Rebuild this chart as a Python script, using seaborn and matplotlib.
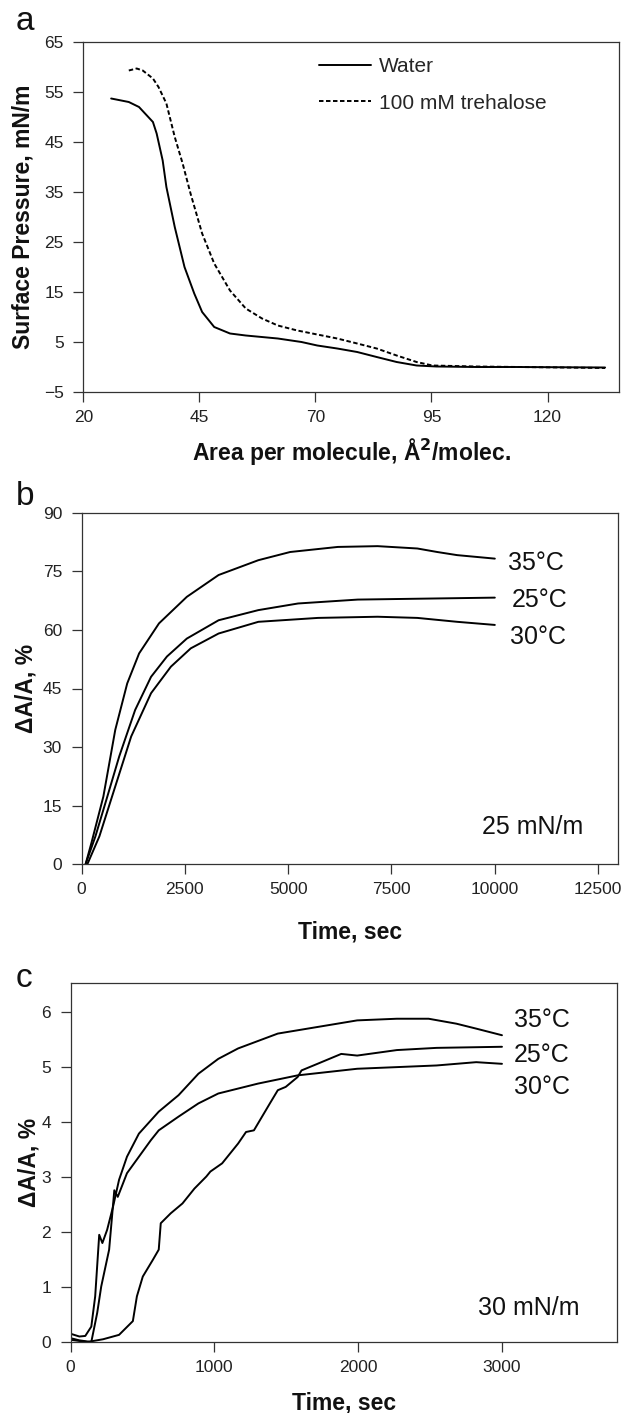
import pandas as pd
import matplotlib.pyplot as plt
import seaborn as sns

# ---- panel a: surface pressure isotherms ----
area_water = [26.0, 29.8, 32.0, 35.0, 35.8, 37.1, 37.9, 39.7, 41.8, 43.9, 45.6, 48.2,
              51.6, 55.0, 61.9, 67.0, 70.4, 74.7, 79.0, 83.2, 87.5, 91.8, 96.1, 104.6,
              113.2, 132.4]
pi_water = [53.7, 53.0, 52.0, 49.0, 46.7, 41.3, 36.0, 28.0, 20.0, 14.7, 11.0, 8.0,
            6.7, 6.3, 5.7, 5.0, 4.3, 3.7, 3.0, 2.0, 1.0, 0.3, 0.1, 0.0,
            0.0, -0.1]
area_treh = [29.8, 31.5, 32.8, 35.0, 36.2, 37.9, 39.7, 41.4, 43.1, 45.6, 48.2, 51.6,
             55.0, 58.5, 61.9, 66.1, 70.4, 74.7, 79.0, 83.2, 87.5, 91.8, 95.2, 104.6,
             132.4]
pi_treh = [59.3, 59.7, 59.3, 57.7, 56.0, 52.7, 46.0, 40.7, 34.7, 26.7, 20.7, 15.3,
           11.7, 9.7, 8.3, 7.3, 6.5, 5.7, 4.7, 3.7, 2.3, 1.0, 0.3, 0.1,
           -0.2]

# ---- panel b: relaxation at 25 mN/m ----
t_b35 = [100, 240, 529, 817, 1106, 1394, 1875, 2548, 3317, 4279, 5048, 6202, 7163,
         8125, 8606, 9087, 10000]
y_b35 = [0.0, 5.4, 17.3, 34.4, 46.3, 54.0, 61.7, 68.5, 74.1, 77.9, 80.0, 81.3, 81.5,
         80.9, 80.0, 79.2, 78.3]
t_b25 = [100, 337, 625, 913, 1298, 1683, 2067, 2548, 3317, 4279, 5240, 6683, 10000]
y_b25 = [0.0, 7.1, 17.3, 27.6, 39.5, 48.0, 53.2, 57.8, 62.5, 65.1, 66.8, 67.8, 68.3]
t_b30 = [144, 433, 817, 1202, 1683, 2163, 2644, 3317, 4279, 5721, 7163, 8125, 9087,
         10000]
y_b30 = [0.0, 7.1, 19.9, 32.7, 43.8, 50.6, 55.3, 59.1, 62.1, 63.1, 63.4, 63.1, 62.1,
         61.3]

# ---- panel c: relaxation at 30 mN/m ----
t_c35 = [0, 61, 102, 144, 171, 199, 221, 254, 295, 337, 392, 475, 613, 751, 889, 1027,
         1165, 1441, 1717, 1993, 2269, 2490, 2683, 2821, 3000]
y_c35 = [0.15, 0.10, 0.11, 0.28, 0.83, 1.95, 1.80, 2.04, 2.46, 2.95, 3.37, 3.79, 4.19,
         4.49, 4.88, 5.15, 5.34, 5.61, 5.73, 5.85, 5.88, 5.88, 5.79, 5.70, 5.58]
t_c30 = [0, 61, 144, 185, 213, 268, 304, 328, 392, 475, 558, 613, 751, 889, 1027, 1303,
         1579, 1993, 2269, 2545, 2821, 3000]
y_c30 = [0.07, 0.03, 0.0, 0.53, 1.01, 1.68, 2.76, 2.64, 3.07, 3.37, 3.67, 3.85, 4.10,
         4.34, 4.52, 4.70, 4.85, 4.97, 5.00, 5.03, 5.09, 5.06]
t_c25 = [0, 116, 226, 337, 433, 461, 502, 571, 613, 627, 696, 778, 861, 944, 972, 1054,
         1165, 1220, 1275, 1386, 1441, 1496, 1579, 1606, 1717, 1882, 1993, 2269, 2545,
         3000]
y_c25 = [0.04, 0.0, 0.05, 0.13, 0.38, 0.83, 1.19, 1.49, 1.68, 2.16, 2.34, 2.52, 2.79,
         3.01, 3.10, 3.25, 3.61, 3.82, 3.85, 4.34, 4.58, 4.64, 4.82, 4.94, 5.06, 5.24,
         5.21, 5.31, 5.35, 5.37]

sns.set_theme(style="ticks")
plt.rcParams["font.family"] = ["Liberation Sans", "DejaVu Sans"]
plt.rcParams["axes.edgecolor"] = "#333333"
plt.rcParams["axes.linewidth"] = 0.9
plt.rcParams["xtick.color"] = "#333333"
plt.rcParams["ytick.color"] = "#333333"
plt.rcParams["xtick.labelcolor"] = "#222222"
plt.rcParams["ytick.labelcolor"] = "#222222"
plt.rcParams["xtick.major.size"] = 7.5
plt.rcParams["ytick.major.size"] = 7.5
plt.rcParams["xtick.major.width"] = 0.9
plt.rcParams["ytick.major.width"] = 0.9
plt.rcParams["xtick.labelsize"] = 12.5
plt.rcParams["ytick.labelsize"] = 12.5
plt.rcParams["xtick.major.pad"] = 5.5
plt.rcParams["ytick.major.pad"] = 6.5

W, H = 623, 1413
fig = plt.figure(figsize=(W / 100, H / 100), dpi=100)
fig.patch.set_facecolor("white")


def make_axes(left, top, right, bottom):
    return fig.add_axes([left / W, 1 - bottom / H, (right - left) / W, (bottom - top) / H])


lw = 1.4
dash = (2.3, 1.3)
label_kw = dict(fontsize=16.5, fontweight="bold", color="#111111")
note_kw = dict(fontsize=18, color="#111111", va="center", ha="left")
panel_kw = dict(fontsize=24, va="baseline", ha="left", color="#111111")

# panel a
ax_a = make_axes(83.3, 42, 619, 392)
sns.lineplot(x=area_water, y=pi_water, ax=ax_a, color="black", linewidth=lw,
             label="Water")
sns.lineplot(x=area_treh, y=pi_treh, ax=ax_a, color="black", linewidth=lw,
             label="100 mM trehalose")
ax_a.lines[1].set_dashes(dash)
ax_a.set_xlim(20, 135.4)
ax_a.set_ylim(-5, 65)
ax_a.set_xticks([20, 45, 70, 95, 120])
ax_a.set_yticks(range(-5, 66, 10))
ax_a.set_xlabel("Area per molecule, Å$^\\mathbf{2}$/molec.", **label_kw)
ax_a.set_ylabel("Surface Pressure, mN/m", **label_kw)
ax_a.xaxis.set_label_coords(0.5, -0.171)
ax_a.xaxis.label.set_va("center")
ax_a.yaxis.set_label_coords(-0.1126, 0.5)
ax_a.yaxis.label.set_va("center")
leg = ax_a.legend(loc="upper left", bbox_to_anchor=(319 / W, 1 - 57 / H),
                  bbox_transform=fig.transFigure, frameon=False, fontsize=15,
                  borderpad=0, borderaxespad=0, handlelength=2.5, handletextpad=0.38,
                  labelspacing=0.85)
for l in leg.get_lines():
    l.set_color("black")
leg.get_lines()[1].set_dashes(dash)
fig.text(16 / W, 1 - 30 / H, "a", **panel_kw)

# panel b
ax_b = make_axes(81.5, 513, 618, 864)
for t, y in [(t_b35, y_b35), (t_b25, y_b25), (t_b30, y_b30)]:
    sns.lineplot(x=t, y=y, ax=ax_b, color="black", linewidth=lw)
ax_b.set_xlim(0, 12980)
ax_b.set_ylim(0, 90)
ax_b.set_xticks(range(0, 12501, 2500))
ax_b.set_yticks(range(0, 91, 15))
ax_b.set_xlabel("Time, sec", **label_kw)
ax_b.set_ylabel("ΔA/A, %", **label_kw)
ax_b.xaxis.set_label_coords(0.5, -0.194)
ax_b.xaxis.label.set_va("center")
ax_b.yaxis.set_label_coords(-0.103, 0.5)
ax_b.yaxis.label.set_va("center")
ax_b.text(0.795, 0.858, "35°C", transform=ax_b.transAxes, **note_kw)
ax_b.text(0.802, 0.752, "25°C", transform=ax_b.transAxes, **note_kw)
ax_b.text(0.798, 0.647, "30°C", transform=ax_b.transAxes, **note_kw)
ax_b.text(0.747, 0.105, "25 mN/m", transform=ax_b.transAxes, **note_kw)
fig.text(16 / W, 1 - 505 / H, "b", **panel_kw)

# panel c
ax_c = make_axes(70.6, 983, 617, 1342)
for t, y in [(t_c35, y_c35), (t_c25, y_c25), (t_c30, y_c30)]:
    sns.lineplot(x=t, y=y, ax=ax_c, color="black", linewidth=lw)
ax_c.set_xlim(0, 3800)
ax_c.set_ylim(0, 6.53)
ax_c.set_xticks([0, 1000, 2000, 3000])
ax_c.set_yticks(range(0, 7))
ax_c.set_xlabel("Time, sec", **label_kw)
ax_c.set_ylabel("ΔA/A, %", **label_kw)
ax_c.xaxis.set_label_coords(0.5, -0.170)
ax_c.xaxis.label.set_va("center")
ax_c.yaxis.set_label_coords(-0.0765, 0.5)
ax_c.yaxis.label.set_va("center")
ax_c.text(0.811, 0.897, "35°C", transform=ax_c.transAxes, **note_kw)
ax_c.text(0.811, 0.799, "25°C", transform=ax_c.transAxes, **note_kw)
ax_c.text(0.811, 0.710, "30°C", transform=ax_c.transAxes, **note_kw)
ax_c.text(0.746, 0.095, "30 mN/m", transform=ax_c.transAxes, **note_kw)
fig.text(16 / W, 1 - 987 / H, "c", **panel_kw)

for ax in (ax_a, ax_b, ax_c):
    for side in ("top", "right"):
        ax.spines[side].set_visible(True)
    ax.set_facecolor("white")

fig.savefig("out.png", dpi=100, facecolor="white")
